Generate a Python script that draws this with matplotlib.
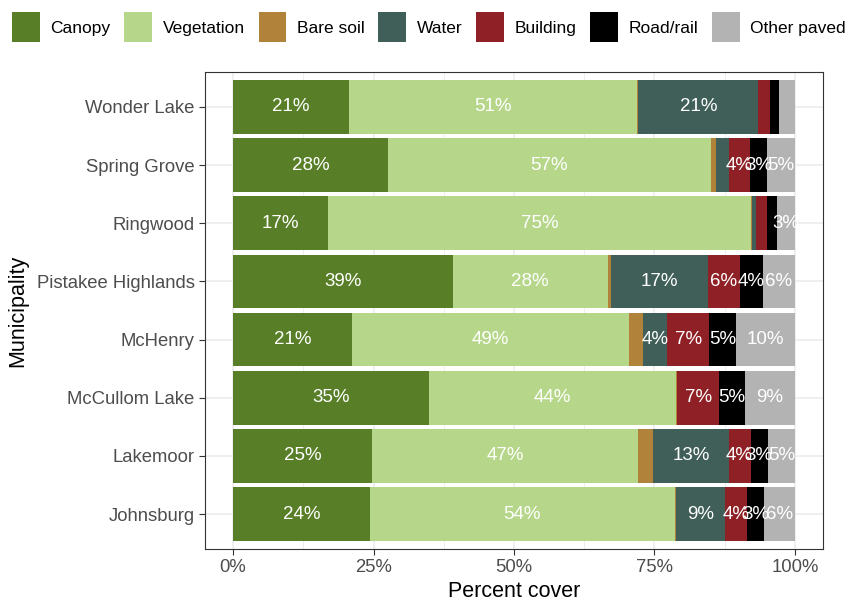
import numpy as np
import matplotlib.pyplot as plt
from matplotlib.patches import Patch

plt.rcParams['font.family'] = ['Liberation Sans', 'DejaVu Sans']

towns = ["Johnsburg", "Lakemoor", "McCullom Lake", "McHenry",
         "Pistakee Highlands", "Ringwood", "Spring Grove", "Wonder Lake"]
classes = ["Canopy", "Vegetation", "Bare soil", "Water", "Building", "Road/rail", "Other paved"]
colors = ["#587f27", "#b6d78a", "#b1833a", "#3f5f58", "#8f2126", "#000000", "#b3b3b3"]

canopy     = [24.4, 24.7, 34.9, 21.1, 39.1, 16.9, 27.6, 20.6]
vegetation = [54.2, 47.4, 43.9, 49.4, 27.6, 75.3, 57.4, 51.3]
bare_soil  = [0.2, 2.7, 0.2, 2.4, 0.5, 0.1, 0.9, 0.2]
water      = [8.7, 13.4, 0.1, 4.4, 17.3, 0.7, 2.4, 21.4]
building   = [4.0, 3.9, 7.4, 7.4, 5.7, 2.1, 3.7, 2.1]
road       = [3.0, 3.1, 4.6, 4.8, 4.1, 1.8, 3.0, 1.6]
other      = [5.6, 4.8, 8.9, 10.5, 5.7, 3.1, 5.0, 2.8]

series = [canopy, vegetation, bare_soil, water, building, road, other]

fig = plt.figure(figsize=(8.58, 6.14), dpi=100)
ax = fig.add_axes([205/858, 1-549/614, (823-205)/858, (549-72)/614])

y = np.arange(len(towns))
left = np.zeros(len(towns))
for name, vals, c in zip(classes, series, colors):
    vals = np.array(vals)
    ax.barh(y, vals, left=left, height=0.92, color=c, zorder=3)
    for yi, l, v in zip(y, left, vals):
        if v >= 2.95:
            ax.text(l + v/2, yi, f"{v:.0f}%", color="white", ha="center", va="center",
                    fontsize=13.5, zorder=4)
    left += vals

ax.set_xlim(-5, 105)
ax.set_ylim(-0.6, len(towns) - 0.4)
ax.set_xticks([0, 25, 50, 75, 100])
ax.set_xticklabels(["0%", "25%", "50%", "75%", "100%"])
ax.set_xticks([12.5, 37.5, 62.5, 87.5], minor=True)
ax.set_yticks(y)
ax.set_yticklabels(towns)
ax.tick_params(axis="both", which="major", labelsize=13.3, labelcolor="#4d4d4d",
               color="#333333", length=4)
ax.tick_params(axis="x", which="minor", length=0)
ax.grid(which="major", color="#ebebeb", lw=1.1, zorder=0)
ax.grid(which="minor", axis="x", color="#ebebeb", lw=0.6, zorder=0)
for s in ax.spines.values():
    s.set_color("#333333")
    s.set_linewidth(0.8)
ax.set_xlabel("Percent cover", fontsize=15.5, labelpad=3)
ax.set_ylabel("Municipality", fontsize=15.5, labelpad=6)

handles = [Patch(facecolor=c, edgecolor="none") for c in colors]
fig.legend(handles, classes, loc="upper left", bbox_to_anchor=(0.0, 1.0), ncol=7,
           frameon=False, fontsize=12.5, handlelength=1.6, handleheight=2.3,
           handletextpad=0.6, columnspacing=0.8, borderaxespad=0.3)

fig.savefig("out.png", dpi=100)
